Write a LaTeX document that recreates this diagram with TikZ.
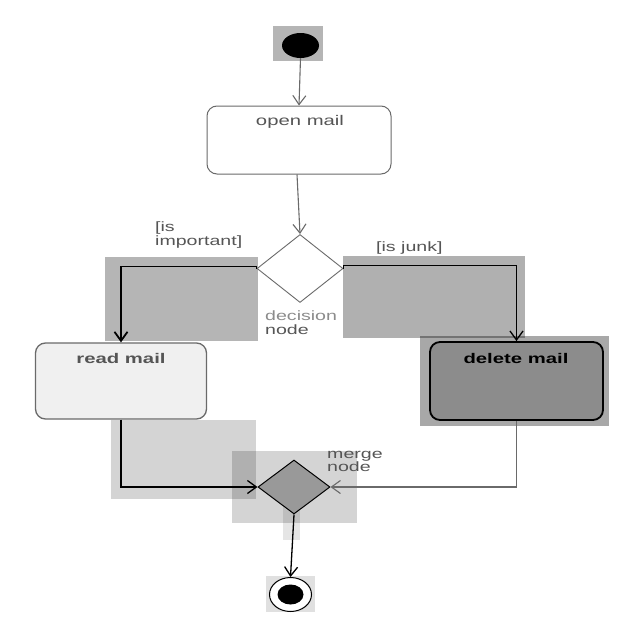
\documentclass[tikz,border=0pt]{standalone}
\usepackage{fontspec}
\setmainfont{Liberation Sans}[FakeStretch=1.45]
\usetikzlibrary{shapes.geometric,arrows.meta}
\definecolor{txtgray}{HTML}{555555}
\definecolor{boxline}{HTML}{6A6A6A}
\tikzset{
  shade/.style={fill=black,draw=none},
  actbox/.style={rectangle,rounded corners=10pt,minimum width=184pt,inner sep=0pt},
  lbl/.style={font=\fontsize{13.5}{15}\selectfont,text=txtgray,align=left,inner sep=0pt,anchor=north west},
  boxtxt/.style={font=\fontsize{14}{16}\selectfont,inner sep=0pt},
  barb/.style={-{Straight Barb[length=9pt,width=13pt]}},
  thinarr/.style={draw=boxline,line width=1.1pt,barb},
  boldarr/.style={draw=black,line width=1.8pt,barb},
  medarr/.style={draw=black,line width=1.3pt,barb},
}
\begin{document}
\begin{tikzpicture}[x=1pt,y=-1pt]
\useasboundingbox (0,0) rectangle (640,640);
\fill[white] (0,0) rectangle (640,640);
% background highlight rectangles
\fill[shade,fill opacity=0.29] (273,26) rectangle (323,61);
\fill[shade,fill opacity=0.29] (105,257) rectangle (258,341);
\fill[shade,fill opacity=0.31] (343,256) rectangle (525,338);
\fill[shade,fill opacity=0.34] (420,336) rectangle (609,426);
\fill[shade,fill opacity=0.17] (111,420) rectangle (256,499);
\fill[shade,fill opacity=0.17] (232,451) rectangle (357,523);
\fill[shade,fill opacity=0.10] (283,505) rectangle (300,540);
\fill[shade,fill opacity=0.12] (266,576) rectangle (315,612);

% nodes
\node[ellipse,fill=black,minimum width=37pt,minimum height=25pt,inner sep=0pt] (init) at (300.5,45.5) {};
\node[actbox,draw=boxline,line width=1pt,fill=white,minimum width=184pt,minimum height=68pt] (open) at (299,140) {};
\node[boxtxt,text=txtgray] (opent) at (300,122) {open mail};
\node[diamond,draw=boxline,line width=0.9pt,fill=white,minimum width=86pt,minimum height=68pt,inner sep=0pt] (dec) at (300,268.5) {};
\node[actbox,draw=boxline,line width=1.3pt,fill=black!6,minimum width=171pt,minimum height=76pt] (read) at (121,381) {};
\node[boxtxt,text=txtgray,font=\fontsize{14}{16}\selectfont\bfseries] (readt) at (121,358) {read mail};
\node[actbox,draw=black,line width=1.8pt,fill=black!45,minimum width=173pt,minimum height=78pt] (del) at (516.5,381) {};
\node[boxtxt,text=black,font=\fontsize{14}{16}\selectfont\bfseries] (delt) at (516,358) {delete mail};
\node[diamond,draw=black,line width=1pt,fill=black!40,minimum width=72pt,minimum height=54pt,inner sep=0pt] (merge) at (294,487) {};
\node[ellipse,draw=black,line width=1pt,fill=white,minimum width=42pt,minimum height=34pt,inner sep=0pt] (fin) at (290.5,594.5) {};
\node[ellipse,fill=black,minimum width=26pt,minimum height=20pt,inner sep=0pt] (finin) at (290.5,594.5) {};

% labels
\node[lbl] (imp) at (155,222) {[is\\[-1pt]important]};
\node[lbl] (junk) at (376,242) {[is junk]};
\node[lbl,text=black!45] (decl) at (265,311) {decision\\[-1pt]\textcolor{txtgray}{node}};
\node[lbl] (mergel) at (327,451) {merge\\[-2pt]node};

% connectors
\draw[thinarr] (init.south) -- (open.north);
\draw[thinarr] ([xshift=-2pt]open.south) -- (dec.north);
\draw[boldarr] (dec.west) -- ++(0,-2) -| (read.north);
\draw[medarr] (dec.east) -- ++(0,-3) -| (del.north);
\draw[medarr] (read.south) |- (merge.west);
\draw[thinarr] (del.south) |- (merge.east);
\draw[medarr] (merge.south) -- (fin.north);
\end{tikzpicture}
\end{document}
